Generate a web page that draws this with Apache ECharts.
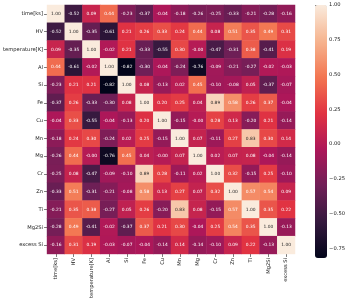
<!DOCTYPE html>
<html><head><meta charset="utf-8">
<script src="https://cdn.jsdelivr.net/npm/echarts@6/dist/echarts.min.js"></script>
<style>html,body{margin:0;padding:0;background:#fff;}#c{width:348px;height:301px;}</style>
</head><body><div id="c"></div>
<script>
const variables = ['time[ks]','HV','temperature[K]','Al','Si','Fe','Cu','Mn','Mg','Cr','Zn','Ti','Mg2Si','excess Si'];
const rowTime   = [1.00,-0.52,0.09,0.44,-0.23,-0.37,-0.04,-0.18,-0.26,-0.25,-0.33,-0.21,-0.28,-0.16];
const rowHV     = [-0.52,1.00,-0.35,-0.61,0.21,0.26,0.33,0.24,0.44,0.08,0.51,0.35,0.49,0.31];
const rowTemp   = [0.09,-0.35,1.00,-0.02,0.21,-0.33,-0.55,0.30,-0.00,-0.47,-0.31,0.38,-0.41,0.19];
const rowAl     = [0.44,-0.61,-0.02,1.00,-0.82,-0.30,-0.04,-0.24,-0.76,-0.09,-0.21,-0.27,-0.02,-0.03];
const rowSi     = [-0.23,0.21,0.21,-0.82,1.00,0.08,-0.13,0.02,0.45,-0.10,-0.08,0.05,-0.37,-0.07];
const rowFe     = [-0.37,0.26,-0.33,-0.30,0.08,1.00,0.20,0.25,0.04,0.89,0.58,0.26,0.37,-0.04];
const rowCu     = [-0.04,0.33,-0.55,-0.04,-0.13,0.20,1.00,-0.15,-0.00,0.28,0.13,-0.20,0.21,-0.14];
const rowMn     = [-0.18,0.24,0.30,-0.24,0.02,0.25,-0.15,1.00,0.07,-0.11,0.27,0.83,0.30,0.14];
const rowMg     = [-0.26,0.44,-0.00,-0.76,0.45,0.04,-0.00,0.07,1.00,0.02,0.07,0.08,-0.04,-0.14];
const rowCr     = [-0.25,0.08,-0.47,-0.09,-0.10,0.89,0.28,-0.11,0.02,1.00,0.32,-0.15,0.25,-0.10];
const rowZn     = [-0.33,0.51,-0.31,-0.21,-0.08,0.58,0.13,0.27,0.07,0.32,1.00,0.57,0.54,0.09];
const rowTi     = [-0.21,0.35,0.38,-0.27,0.05,0.26,-0.20,0.83,0.08,-0.15,0.57,1.00,0.35,0.22];
const rowMg2Si  = [-0.28,0.49,-0.41,-0.02,-0.37,0.37,0.21,0.30,-0.04,0.25,0.54,0.35,1.00,-0.13];
const rowExcess = [-0.16,0.31,0.19,-0.03,-0.07,-0.04,-0.14,0.14,-0.14,-0.10,0.09,0.22,-0.13,1.00];
const colorbarTicks = [-0.75,-0.50,-0.25,0.00,0.25,0.50,0.75,1.00];
const vMin = -0.82, vMax = 1.00;

const rows = [rowTime,rowHV,rowTemp,rowAl,rowSi,rowFe,rowCu,rowMn,rowMg,rowCr,rowZn,rowTi,rowMg2Si,rowExcess];
const data = [];
rows.forEach((r, yi) => r.forEach((v, xi) => data.push([xi, yi, v])));

const rocket = ['#03051a','#35193e','#701f57','#ad1759','#e13342','#f37651','#f6b48f','#faebdd'];
const FONT = 'DejaVu Sans';
const fmt = v => (v < 0 || Object.is(v,-0) ? '-' : '') + Math.abs(v).toFixed(2);

const chart = echarts.init(document.getElementById('c'), null, {renderer:'canvas'});
chart.setOption({
  animation: false,
  backgroundColor: '#fff',
  grid: [
    {left: 43, top: 5, width: 252, height: 253},
    {left: 315, top: 5, width: 12, height: 253}
  ],
  xAxis: [
    {type:'category', data: variables, gridIndex:0, position:'bottom',
     axisLine:{show:false}, splitLine:{show:false},
     axisTick:{show:true, alignWithLabel:true, length:3, lineStyle:{color:'#222', width:0.6}},
     axisLabel:{rotate:90, fontSize:5.2, fontFamily:FONT, color:'#222', margin:4, interval:0}},
    {type:'value', gridIndex:1, show:false, min:0, max:1}
  ],
  yAxis: [
    {type:'category', data: variables, gridIndex:0, inverse:true,
     axisLine:{show:false}, splitLine:{show:false},
     axisTick:{show:true, alignWithLabel:true, length:3, lineStyle:{color:'#222', width:0.6}},
     axisLabel:{fontSize:5.2, fontFamily:FONT, color:'#222', margin:4, interval:0}},
    {type:'value', gridIndex:1, position:'right', min:vMin, max:vMax,
     axisLine:{show:false}, splitLine:{show:false},
     axisTick:{show:true, length:3, customValues: colorbarTicks, lineStyle:{color:'#222', width:0.6}},
     axisLabel:{show:true, fontSize:5.2, fontFamily:FONT, color:'#222', margin:3, customValues: colorbarTicks,
       formatter: v => (v < 0 ? '\u2212' : '') + Math.abs(v).toFixed(2)}}
  ],
  visualMap: {
    type:'continuous', min:vMin, max:vMax, seriesIndex:0,
    calculable:false, showLabel:false, text:null,
    orient:'vertical', left:315, top:5, padding:0,
    itemWidth:12, itemHeight:253,
    inRange:{color: rocket}
  },
  series: [{
    type:'heatmap', xAxisIndex:0, yAxisIndex:0, data: data,
    label:{show:true, fontSize:4.4, fontFamily:FONT,
      formatter: p => fmt(p.value[2]),
      rich:{}},
    labelLayout: null,
    emphasis:{disabled:true},
    itemStyle:{borderWidth:0}
  }]
});
// per-cell text color based on value (light cells get dark text)
const opt = chart.getOption();
chart.setOption({series:[{data: data.map(d => ({value:d, label:{color: d[2] >= 0.7 ? '#262626' : '#ffffff'}}))}]});
</script>
</body></html>
